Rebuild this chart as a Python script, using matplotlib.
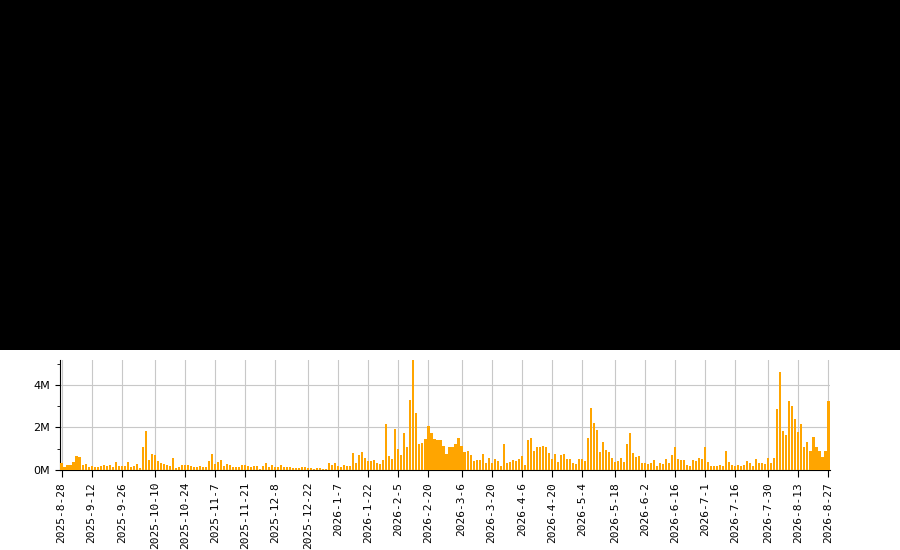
import matplotlib
matplotlib.use("Agg")
import matplotlib.pyplot as plt
from matplotlib.patches import Rectangle
from matplotlib.ticker import FuncFormatter, MultipleLocator
import numpy as np

# daily values in millions
vals_a = [0.34, 0.14, 0.24, 0.24, 0.38, 0.67, 0.62, 0.24, 0.29, 0.14, 0.19, 0.14, 0.14, 0.19, 0.24, 0.19,
          0.24, 0.14, 0.38, 0.19, 0.19, 0.19, 0.38, 0.14, 0.19, 0.29, 0.10, 1.10, 1.82, 0.48, 0.77, 0.72,
          0.43, 0.34, 0.29, 0.24, 0.19, 0.58, 0.10, 0.14, 0.24, 0.24, 0.24, 0.19, 0.14, 0.14, 0.19, 0.14,
          0.14, 0.43, 0.77, 0.29, 0.38, 0.48, 0.19, 0.29, 0.24, 0.14, 0.14, 0.14, 0.24, 0.24, 0.19, 0.14, 0.19]
vals_b = [0.19, 0.05, 0.19, 0.34, 0.14, 0.24, 0.14, 0.14, 0.24, 0.14, 0.14, 0.14, 0.10, 0.10, 0.10, 0.14,
          0.14, 0.10, 0.10, 0.05, 0.10, 0.10, 0.05, 0.05, 0.34, 0.24, 0.34, 0.19, 0.14, 0.24, 0.19, 0.19,
          0.82, 0.34, 0.72, 0.86, 0.58, 0.43, 0.43, 0.48, 0.34, 0.29, 0.48, 2.16, 0.67, 0.53, 1.92, 1.01,
          0.72, 1.73, 1.06, 3.31, 5.28, 2.69, 1.20, 1.25, 1.44, 2.06, 1.73, 1.44, 1.39, 1.39, 1.15, 0.77, 1.10]
vals_c = [1.10, 1.20, 1.49, 1.15, 0.86, 0.91, 0.72, 0.43, 0.48, 0.48, 0.77, 0.34, 0.58, 0.34, 0.53, 0.43,
          0.19, 1.20, 0.34, 0.38, 0.48, 0.43, 0.53, 0.67, 0.24, 1.39, 1.49, 0.91, 1.06, 1.06, 1.15, 1.06,
          0.82, 0.53, 0.77, 0.38, 0.72, 0.77, 0.53, 0.53, 0.34, 0.29, 0.53, 0.53, 0.43, 1.49, 2.93, 2.21,
          1.87, 0.86, 1.30, 0.96, 0.86, 0.58, 0.38, 0.43, 0.58, 0.38, 1.20, 1.73, 0.82, 0.62, 0.67, 0.34]
vals_d = [0.34, 0.29, 0.34, 0.48, 0.19, 0.34, 0.29, 0.53, 0.34, 0.72, 1.10, 0.53, 0.48, 0.48, 0.24, 0.19,
          0.48, 0.43, 0.58, 0.53, 1.10, 0.38, 0.19, 0.19, 0.19, 0.24, 0.19, 0.91, 0.38, 0.24, 0.19, 0.24,
          0.19, 0.24, 0.43, 0.34, 0.19, 0.53, 0.34, 0.34, 0.29, 0.58, 0.34, 0.58, 2.88, 4.61, 1.82, 1.63,
          3.22, 3.02, 2.40, 1.78, 2.16, 1.10, 1.30, 0.91, 1.54, 1.06, 0.91, 0.62, 0.91, 3.26]
values = np.array(vals_a + vals_b + vals_c + vals_d) * 1e6

tick_labels = ["2025-8-28", "2025-9-12", "2025-9-26", "2025-10-10", "2025-10-24", "2025-11-7",
               "2025-11-21", "2025-12-8", "2025-12-22", "2026-1-7", "2026-1-22", "2026-2-5",
               "2026-2-20", "2026-3-6", "2026-3-20", "2026-4-6", "2026-4-20", "2026-5-4",
               "2026-5-18", "2026-6-2", "2026-6-16", "2026-7-1", "2026-7-16", "2026-7-30",
               "2026-8-13", "2026-8-27"]

n = len(values)
x = np.arange(n)
tick_pos = [round(i * (n - 1) / (len(tick_labels) - 1)) for i in range(len(tick_labels))]

fig = plt.figure(figsize=(9, 5.5), dpi=100, facecolor="black")
# white lower band behind the chart
bg = Rectangle((0, 0), 1, 200 / 550, transform=fig.transFigure,
               facecolor="white", edgecolor="none", zorder=-10)
fig.patches.append(bg)
ax = fig.add_axes([60 / 900, 80 / 550, 770 / 900, 110 / 550])
ax.set_zorder(5)
ax.set_facecolor("white")

ax.bar(x, values, width=0.7, color="#FFA500", zorder=3)

ax.set_xlim(-0.5, n - 0.5)
ax.set_ylim(0, 5.17e6)
ax.yaxis.set_major_locator(MultipleLocator(2e6))
ax.yaxis.set_minor_locator(MultipleLocator(1e6))
ax.yaxis.set_major_formatter(FuncFormatter(lambda v, p: f"{v / 1e6:.0f}M"))
ax.set_xticks(tick_pos)
ax.set_xticklabels(tick_labels, rotation=90, family="DejaVu Sans Mono", fontsize=8)
ax.tick_params(axis="y", labelsize=8)
ax.tick_params(axis="x", length=5)

ax.grid(True, which="major", color="#c8c8c8", linewidth=0.8, zorder=0)
for s in ["top", "right"]:
    ax.spines[s].set_visible(False)

fig.savefig("out.png", dpi=100, facecolor=fig.get_facecolor())
